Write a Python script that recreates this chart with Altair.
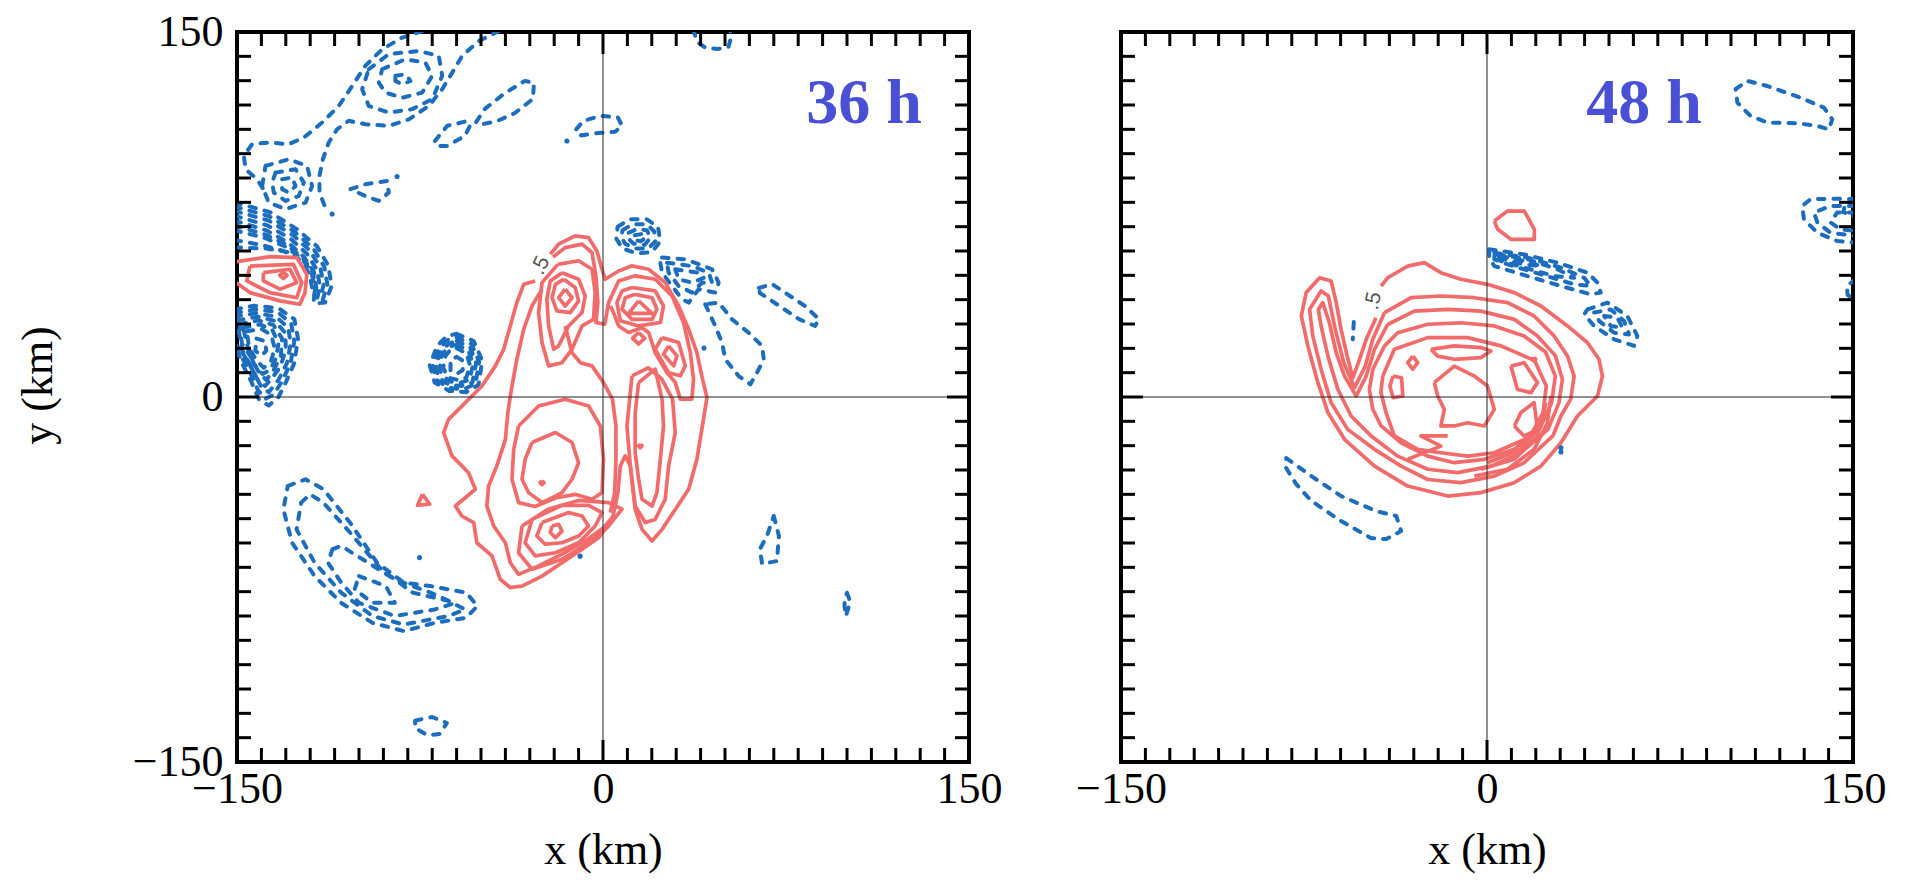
import altair as alt
import pandas as pd

# ====================== 36 h panel : positive (red, solid) contours ======================
P36_OUTER = [(-27.8,47.7),(-32.5,46.3),(-35.3,38.8),(-38,29.2),(-40.7,19.6),(-44.1,12.8),(-49.6,4.5),(-56.4,-2.3),
             (-63.3,-9.2),(-65.3,-14.6),(-61.9,-24.2),(-55.1,-31.1),(-52.3,-37.9),(-60.5,-44.8),(-57.8,-48.9),(-53,-51.6),
             (-51.7,-59.9),(-45.5,-65.3),(-42.1,-74.9),(-38,-78.3),(-33.2,-77.7),(-25,-73.6),(-16.8,-68.1),(-8.6,-62.6),
             (-1.8,-57.8),(3.7,-50.9),(6.1,-39.3),(7.1,-28.3),(9.1,-24.2),(11.2,-28.3),(13.2,-46.2),(16,-54.4),(20.1,-59.2),
             (24.2,-54.4),(29.6,-46.2),(35.1,-37.9),(38.5,-25.6),(40.5,-13.3),(42.6,-0.3),(40.5,8.6),(38.5,18.2),(35.1,27.8),
             (31,37.4),(25.5,47),(18.7,52.5),(11.9,53.9),(6.4,51.8),(0.9,48.4),(-0.4,52.5),(-2.5,60),(-5.9,65.5),
             (-11.4,66.2),(-18.2,62.8),(-21.6,58.7)]
P36_SECOND = [(-25,44.3),(-29.1,37.4),(-32.5,27.8),(-35.3,15.5),(-37.3,4.5),(-39,-6.4),(-40,-17.4),(-43.5,-28.3),
              (-46.9,-36.6),(-47.6,-44.8),(-44.8,-53),(-40,-59.9),(-38,-68.1),(-34.6,-72.9),(-26.4,-69.4),(-16.8,-64.6),
              (-7.3,-59.2),(0.2,-53.7),(4.3,-48.9)]
P36_TOP = [(-20.5,57.5),(-15.5,61.4),(-8.6,62.8),(-4.5,59.3),(-2.9,49.8),(-2.1,38.8),(-2.9,30.6),(0.7,29.9),(2.3,38.8),
           (6.4,47.7),(13.2,49.8),(21.4,48.4),(28.3,41.5),(33,30.6),(35.8,18.2),(37.1,7.3),(36.4,-0.9),(31.7,-0.9),
           (29.6,6),(26.2,10),(21.4,18.2),(18.7,26.5),(15.9,28.5),(10.5,26.5),(6.4,29.2),(4.3,34.7),(3,37.4)]
P36_MID = [(-15.5,29.2),(-12.7,18.2),(-9.3,14.1),(-4.5,12.8),(0.2,5.9),(3.9,-0.9),(5.3,-11.9),(5.3,-25.6),(4.8,-39.3),(3,-47.5)]
P36_EDGE = [(-151,55.5),(-136.5,57.7),(-125.5,57.3),(-121.4,50.4),(-122.1,42.9),(-124.2,38.1),(-132.4,39.5),(-144.7,42.9),(-151,47.5)]

P36_L1 = [(-15.5,44.3),(-12.7,40.8),(-15.5,37.4),(-18.2,40.8)]
P36_L2 = [(-16.1,48.4),(-11.4,45),(-10,39.5),(-13.4,34.7),(-18.9,35.4),(-20.9,40.8),(-19.5,46.3)]
P36_L3 = [(-16.8,51.1),(-10,48.4),(-7.3,41.5),(-8.6,34.7),(-14.1,29.2),(-18.2,21),(-20.2,19.6),(-22.3,29.2),(-23,40.2),(-21.6,47.7)]
P36_L4 = [(-18.5,54.5),(-10,56),(-4.5,52.5),(-3.2,42.9),(-3.9,31.9),(-8.6,29.2),(-12.7,19.6),(-16.8,14.1),(-22.3,12.8),
          (-25,22.4),(-26.4,34.7),(-25,47)]
P36_Q1 = [(14.6,39.5),(20.1,34.4),(10.5,34.4)]
P36_Q2 = [(13.2,42.2),(20.1,40.8),(22.1,36.1),(20.1,31.9),(11.9,31.9),(7.8,36.1),(9.1,40.8)]
P36_Q3 = [(11.9,45),(21.4,43.6),(24.8,37.4),(23.5,30.6),(14.6,29.2),(7.1,31.3),(5.7,38.8),(7.8,43.6)]
P36_D1 = [(14.6,26.5),(17.1,24.1),(14.6,21.8),(12.1,24.1)]
P36_D2 = [(26.9,21),(30.3,16.9),(29,12.8),(24.8,17.6)]
P36_D3 = [(24.2,24.4),(31,22.4),(33.7,12.8),(31.7,8.7),(26.9,10),(21.4,19.6)]
P36_C0 = [(-25,-34.4),(-24.2,-35.2),(-25,-36),(-25.8,-35.2)]
P36_C1 = [(-29.1,-18.7),(-19.5,-14.6),(-12.7,-18.7),(-10,-27),(-12.7,-33.8),(-16.8,-39.3),(-19.5,-40.7),(-25,-43.4),
          (-30.5,-39.3),(-33.2,-33.8),(-31.9,-25.6)]
P36_C2 = [(-34.6,-11.9),(-26.4,-3.7),(-15.5,-0.9),(-5.9,-3.7),(-1.1,-11.9),(0.2,-25.6),(-0.4,-39.3),(-4.5,-42),
          (-11.4,-40),(-19.5,-41.5),(-27.8,-45),(-34.6,-43.4),(-37.3,-33.8),(-36.6,-21.5)]
P36_V1 = [(-20.9,-53),(-18.2,-52.3),(-16.8,-55.1),(-19.5,-57.8),(-21.6,-55.7)]
P36_V2 = [(-25,-51.6),(-14.1,-47.5),(-8.6,-48.9),(-5.9,-53),(-10,-57.1),(-16.8,-59.9),(-23.7,-60.5),(-27.1,-57.1)]
P36_V3 = [(-29.1,-50.3),(-16.8,-44.5),(-5.9,-44.5),(-0.4,-47.5),(-3.2,-53),(-10,-59.9),(-19.5,-64),(-27.8,-65.3),(-31.9,-59.9)]
P36_V4 = [(-33.2,-53),(-22.3,-46),(-10,-42.5),(2.3,-43.4),(7.8,-46.1),(2.3,-53),(-5.9,-59.9),(-16.8,-66.7),(-29.1,-70.8),(-34.6,-64)]
P36_P1 = [(14.6,5.9),(21.4,11.4),(24.2,-0.9),(24.8,-11.9),(23.5,-25.6),(22.1,-39.3),(20.1,-44.8),(16,-42),(14.6,-33.8),
          (13.2,-22.9),(13.2,-6.4)]
P36_P2 = [(11.9,8.7),(18.5,12),(24,7.5),(28.5,-0.9),(29.6,-14.6),(26.9,-28.3),(25.5,-42),(21.4,-50.3),(17.3,-51.6),
          (13.2,-44.8),(11.2,-28.3),(9.8,-11.9)]
P36_P0 = [(15.3,-19.4),(16,-20.1),(15.3,-20.8),(14.6,-20.1)]
P36_TRI = [(-74,-40),(-71,-44),(-76,-44.5)]
P36_E2 = [(-144.7,53.8),(-126.9,54.5),(-123.5,47),(-125.5,40.8),(-136.5,42.9),(-146,47.7)]
P36_E3 = [(-139.2,51.1),(-128.3,52.5),(-125.5,47),(-132.4,44.3),(-139.2,47.7)]
P36_E4 = [(-131,51.3),(-129.5,50),(-131,48.7),(-132.5,50)]

# ====================== 36 h panel : negative (blue, dashed) contours ======================
N36_B1 = [(-74.1,150.4),(-82.3,147.7),(-90.5,142.9),(-97.4,136.1),(-102.8,127.8),(-108.3,119.6),(-115.1,112.8),
          (-122.6,106.6),(-128.8,103.9),(-137,104.6),(-143.8,103.9),(-147.2,99.1),(-146.5,93.6),(-141.8,89.5),(-138.3,84)]
N36_B2 = [(-42.7,150.4),(-50.9,146.3),(-57.7,140.2),(-61.8,133.3),(-65.9,126.5),(-71.4,119.6),(-79.6,114.1),(-87.8,111.4),
          (-97.4,112.1),(-104.2,113.5),(-109,110),(-112.4,104.6),(-114.8,97.7),(-116.2,90.9),(-116.2,84),(-113.8,77.8)]
N36_A1 = [(-151,80),(-136.5,76),(-125.5,69),(-117.3,62),(-112.6,54),(-111.2,45.6),(-113.9,38.8),(-117,38.5)]
N36_A1B = [(-151,78.3),(-136.8,74.3),(-126.3,67.8),(-118.7,61),(-114.2,53.5),(-112.9,45.8),(-115,39.7)]
N36_A2 = [(-151,76.5),(-137,72.5),(-127,66.5),(-120,60),(-115.8,53),(-114.5,46),(-116,40.5)]
N36_A2B = [(-151,74.5),(-137.5,70.5),(-128,65),(-121.3,58.8),(-117.2,52.2),(-116,45.5),(-117.2,40.2)]
N36_A3 = [(-151,72.5),(-138,68.5),(-129,63.5),(-122.5,57.5),(-118.5,51.5),(-117.5,45),(-118.5,40)]
N36_A3B = [(-151,70.5),(-138.5,66.8),(-129.8,62.7),(-123,57.2),(-119,51.5),(-117.7,44.5)]
N36_A4 = [(-151,68.5),(-139,65.5),(-130.5,62),(-123.5,57),(-119.5,51.5),(-118,44),(-118.8,39.5)]
N36_A5 = [(-151,64.5),(-140,62.5),(-131,60),(-125,57),(-120.5,51),(-119,44)]
N36_A6 = [(-151,61.5),(-138,61),(-128.5,59.5)]
N36_TOPU = [(37,151),(38.5,146),(42,143.5),(47,143),(51.5,144),(52.5,148),(52,151)]

N36_E1 = [(-85.1,132),(-81,132.6),(-78.9,129.9),(-82.3,128.5),(-85.1,129.9)]
N36_E2 = [(-90.5,134.7),(-81,138.8),(-72.8,137.4),(-70,132),(-74.1,125.1),(-82.3,123),(-89.2,125.1),(-91.9,129.2)]
N36_E3 = [(-96,134.7),(-87.8,140.9),(-75.5,142.2),(-67.3,140.2),(-65.9,132),(-70,122.4),(-78.2,118.3),(-87.8,116.9),
          (-96,119.6),(-98.7,126.5)]
N36_F1 = [(-131.5,89.5),(-127.4,90.2),(-126,86.7),(-128.8,84),(-131.5,85.4)]
N36_F2 = [(-134.2,92.2),(-126,93.6),(-122.6,88.1),(-124.7,82.6),(-130.1,80.6),(-134.9,84),(-135.6,88.1)]
N36_F3 = [(-138.3,95),(-128.8,97.7),(-121.3,95),(-119.2,86.7),(-121.9,79.9),(-130.1,77.2),(-137,79.9),(-139.7,86.7)]
N36_TRI = [(-103.5,85.4),(-97.4,87.4),(-88.5,88.8),(-87.8,84),(-91.9,80.6),(-97.4,82.6)]
N36_G1 = [(-68.9,105.2),(-63.9,111.4),(-55.7,113.4),(-54.5,111.5),(-56.6,107.3),(-63.9,103.2),(-68,103.2)]
N36_G2 = [(-52,113),(-48.4,118.4),(-40.2,124.9),(-32,129.9),(-28.3,129.1),(-28.7,122.5),(-36.1,116.7),(-43.4,113.4),(-50,112)]
N36_NC = [(-11,110),(-8,113.5),(-1,115.5),(6,115),(7.8,111.5),(5,109),(-2,108.5),(-9,107.5)]
N36_BN1 = [(6,70),(11,73),(18,73),(22.5,70),(23.5,64),(20,59.5),(14,59),(8,61),(5.5,65)]
N36_BN2 = [(8,68.5),(12,71),(18,71),(21,68),(21.5,64),(18.5,61),(13.5,61),(9,63),(7.5,66)]
N36_BN3 = [(10.5,67.5),(14,69),(18,68.5),(19.5,65.5),(17,62.5),(12.5,63),(10.5,65)]
N36_BN4 = [(13,66.5),(16,67),(17.5,65.5),(15.5,64),(13,64.5)]
N36_BAND1 = [(24.2,57.3),(33.7,56.6),(44.7,52.5),(47.4,47),(46,42.9),(39.2,44.3),(35.1,38.8),(32.4,40.2),(28.3,45.6),
             (24.2,51.1),(23.5,55.2)]
N36_BAND2 = [(26.2,55.2),(36.5,53.8),(43.3,51.1),(44.7,47),(40.6,47),(36.5,42.9),(31,45.6),(26.9,51.1)]
N36_BAND3 = [(29.6,52.5),(39.2,51.1),(41.3,49),(36.5,47),(31,48.4)]
N36_TAIL = [(41.9,38.1),(46,29.2),(48.8,22.3),(50.1,15.5),(55.6,8.6),(60.4,5.2),(63.1,10),(65.9,15.5),(65.2,21),
            (59.7,26.4),(52.9,31.9),(47.4,38.8)]
N36_ELONG = [(63.9,44.8),(69.3,46.4),(82.8,37.4),(88.5,32),(86.9,29.2),(80.3,32),(68,40.3),(64.3,42.7)]
N36_LOOPR = [(70,-48.9),(72.1,-57.1),(71.3,-67.4),(65.2,-68.6),(64.3,-62.5),(67.2,-57.1)]
N36_SMALLR = [(100,-80.5),(101.3,-84),(100.5,-87),(99.5,-90),(99,-86),(99,-83)]
N36_LL1 = [(-129.2,-36.6),(-121.9,-33.8),(-114.6,-37.9),(-103.6,-51.7),(-92.6,-68.1),(-81.6,-76.3),(-70.7,-77.7),
           (-56,-80.4),(-51.5,-85.9),(-56,-90.7),(-68.9,-92.8),(-81.6,-96.2),(-94.5,-92.8),(-107.3,-84.6),
           (-118.2,-73.6),(-127.4,-59.9),(-131,-46.2)]
N36_LL2 = [(-123.7,-43.4),(-120.1,-40),(-114.6,-43.4),(-103.6,-55.8),(-90.8,-70.9),(-78,-80.4),(-63.4,-83.8),
           (-56.5,-87.3),(-63.4,-90),(-81.6,-93.5),(-94.5,-90),(-107.3,-80.4),(-118.2,-68.1),(-125.6,-54.4)]
N36_LL3 = [(-110.9,-62.6),(-107.3,-61.2),(-96.3,-68.1),(-85.3,-75),(-70.7,-80.4),(-61,-84.8),(-68.9,-87.3),(-85.3,-90),
           (-100,-84.6),(-107.3,-76.3),(-112.7,-68.1)]
N36_LL4 = [(-100,-73.6),(-89,-77.7),(-85.3,-84.6),(-94.5,-84.6),(-101.8,-79)]
N36_BOT = [(-77,-133),(-70,-131.5),(-64,-134),(-67,-138.5),(-72,-139),(-77,-136)]
N36_BL1 = [(-60,26),(-53,23),(-49.5,15),(-51,5),(-56,2),(-63,2.5),(-69,6),(-71,13),(-68,21),(-64,25)]
N36_BL1B = [(-60,24.5),(-53.8,21.7),(-50.8,14.5),(-52.2,5.5),(-57,3.2),(-63,3.7),(-68.2,7),(-69.8,13.2),(-67,20.2),(-63.5,23.5)]
N36_BL2 = [(-60,23),(-54.5,20.5),(-52,14),(-53.5,6),(-58,4.5),(-63,5),(-67.5,8),(-68.5,13.5),(-66,19.5),(-63,22)]
N36_BL2B = [(-60,21.5),(-55.2,19.2),(-53.2,13.5),(-54.8,7),(-58.8,5.8),(-63.2,6.5),(-66.5,10),(-67,15),(-65.2,18.5),(-62.8,20.8)]
N36_BL3 = [(-60,20),(-56,18),(-54.5,13),(-56,8),(-59.5,7),(-63.5,8),(-65.5,12),(-64.5,17),(-62.5,19.5)]
N36_BL4 = [(-60,16.5),(-57.5,15),(-57.5,11),(-60,9.5),(-62.5,11),(-62.5,15)]
N36_BB1 = [(-151,36),(-143,37.5),(-133,36.5),(-126.5,32),(-125,24),(-126.5,14),(-130,6),(-133,0),(-137,-3.5),(-141,-1),
           (-144,6),(-148,14),(-151,22)]
N36_BB1B = [(-151,34.5),(-142.5,36),(-133.5,35),(-127.8,30.3),(-126.5,23),(-128,14),(-131.5,6.5),(-135,1),(-138.5,-0.8),
            (-141.5,3),(-145,11),(-149,18),(-151,22)]
N36_BB2 = [(-151,33),(-142,34.5),(-134,33),(-129,28.5),(-128,22),(-129.5,14),(-133,7),(-137,2),(-140,4),(-143,10),
           (-147,17),(-151,22)]
N36_BB2B = [(-150,31.5),(-141.5,33),(-134.5,31.3),(-130.2,26.3),(-130,19.5),(-132.2,12.5),(-135.5,8),(-138.5,4.5),
            (-141.5,7),(-144.5,13),(-148,19.5)]
N36_BB3 = [(-149,30),(-141,31.5),(-135,29.5),(-131.5,24),(-132,17),(-135,11),(-138,7),(-141,10),(-144,16),(-148,22)]
N36_BB3B = [(-147.5,28.5),(-140.5,29.8),(-135.5,27.5),(-133,22),(-134,16),(-136.5,11),(-139.5,9.5),(-142.5,12.5),(-145,18)]
N36_BB4 = [(-146,27),(-140,28),(-136,25.5),(-134.5,20),(-136,15),(-139,12),(-142,15),(-145,20)]
N36_BB5 = [(-142,24),(-138.5,23),(-138,19),(-140,17),(-142.5,19)]
N36_DOTS = [(-14.8,105.2),(41.4,20.1),(-9.4,-65.4),(-75.2,-66),(-84.4,90.6),(-111,75.2)]

# ====================== 48 h panel : positive (red) contours ======================
P48_OUTER = [(-45.5,32.6),(-49.5,23.7),(-52.7,14.1),(-55,7.9),(-57.3,16.8),(-59.8,27.8),(-61.8,38.8),(-63.9,47.7),
             (-68.6,49),(-74.1,42.9),(-76.1,33.3),(-73.4,20.9),(-69.3,5.9),(-65.2,-6.4),(-58.4,-17.4),(-46.1,-28.4),
             (-32.5,-36.6),(-16.1,-40.7),(-2.5,-39.3),(11.2,-35.2),(22.1,-28.4),(30.3,-18.8),(37.1,-7.8),(45.3,0.4),
             (47.3,8.6),(45.9,15.5),(41.2,22.3),(33,29.2),(22.1,37.4),(11.2,42.9),(0.2,46.3),(-10.7,48.4),(-18.9,51.1),
             (-25.7,55.2),(-32.5,53.8),(-40.7,49),(-43.4,45.6)]
P48_K1 = [(-5.2,-32.5),(8.4,-29.7),(19.3,-21.5),(24.8,-10.6),(26.2,0.4)]
P48_K2 = [(-2.5,-29.7),(11.2,-25.6),(20.7,-16),(23.4,-5.1)]
P48_K3 = [(0.2,-27),(13.9,-21.5),(22.1,-11.9),(24.1,-2.3)]
P48_JAG = [(-32.5,-25.6),(-18.9,-20.2),(-27.1,-16),(-16.1,-16)]

P48_R2 = [(-42,34.7),(-31.1,40.8),(-18.9,41.5),(-5.2,40.8),(8.4,38.8),(19.3,33.3),(27.5,25.1),(33,16.8),(35.7,8.6),
          (34.3,-0.9),(30.3,-7.8),(27,-16),(15.2,-27),(3,-32.5),(-10.7,-35.2),(-24.3,-33.9),(-35.2,-28.4),(-46.1,-21.5),
          (-57.1,-13.3),(-63.9,-2.3),(-68,11.4),(-71.4,25.1),(-72.7,36),(-68,43.6),(-65,41.5),(-62.2,27.8),(-58.7,14.1),
          (-54.3,3.8),(-49.9,12.7),(-46.8,23.7)]
P48_R3 = [(-40.7,29.8),(-29.8,35.3),(-16.1,36),(-2.5,35.3),(11.2,31.9),(20.7,25.1),(28,17),(30.9,7.3),(29.5,-2.3),
          (25,-13.3),(13.9,-22.9),(1.6,-28.4),(-12,-31.1),(-24.3,-29.7),(-36.6,-24.3),(-47.5,-16),(-55.7,-7.8),
          (-61.1,3.1),(-65.2,16.8),(-68,29.2),(-69.1,36),(-67.3,38.8),(-64.6,30.5),(-61.8,18.2),(-58.4,8.6),
          (-53.6,0.4),(-49.5,8.6),(-46.1,19.6)]
P48_R4 = [(-42,21),(-36.6,26.4),(-24.3,29.9),(-10.7,30.5),(3,29.2),(15.2,25.1),(24,18.5),(28,8.6),(26.5,-2.3),
          (21.5,-13.3),(11.2,-21.5),(-1.1,-25.6),(-13.4,-27),(-24.3,-24.3),(-35.2,-18.8),(-43.4,-11.9),(-46.8,-5.1),
          (-48.2,3.1),(-46.8,11.4)]
P48_R5 = [(-42.7,8.6),(-38,19.6),(-24.3,24.4),(-7.9,24.4),(5.7,21),(19.5,15),(24.3,4.5),(23,-6.4),(17.5,-16.5),
          (3,-22.9),(-7.9,-24.3),(-18.9,-22.9),(-28.4,-21.5),(-38,-16),(-41.5,-6),(-43.5,2)]
P48_ELL = [(-23,19.6),(-13.4,21),(-2.5,20.3),(1.6,18.9),(-2.5,16.2),(-13.4,15.5),(-20.2,16.8)]
P48_DIA = [(-30.4,16.8),(-28.4,14.1),(-30.4,11.4),(-32.5,14.1)]
P48_B = [(-38.5,8.6),(-35,7.9),(-34.5,0.4),(-38.5,-0.3),(-39.8,4.5)]
P48_C = [(-21.6,5.9),(-13.4,12.7),(-5.2,8.6),(0.2,4.5),(3,-5.1),(-1.1,-11.9),(-7.9,-10.6),(-13.4,-11.9),(-18.9,-11.9),
         (-17.5,-5.1),(-20.2,0.4)]
P48_S1 = [(9.8,12.7),(15.2,14.1),(20.7,5.9),(18,1.8),(12.5,3.1)]
P48_S2 = [(11.2,-11.9),(13.9,-6.4),(19.3,-2.3),(20.7,-13.3),(15.2,-16)]
P48_DOT = [(19.3,16.2),(20,15.5),(19.3,14.8),(18.6,15.5)]
P48_TOPL = [(3,72.3),(8.4,76.4),(15.3,76.4),(19.4,68.9),(19.4,64.8),(9.8,64.8),(4.4,68.9)]

# ====================== 48 h panel : negative (blue) contours ======================
N48_N1 = [(151,81.3),(143.5,81.5),(132.6,81.3),(129.2,78.5),(129.9,73),(135.4,67.5),(143.5,64.1),(151,63.4)]
N48_N2 = [(151,78.5),(140.8,78.5),(134,75.8),(135.4,71.7),(140.8,67.5),(151,66.2)]
N48_N3 = [(151,75.8),(143.5,75.8),(140.8,71.7),(144.9,68.9),(151,68.2)]
N48_N4 = [(151,80),(147,80),(146,76),(151,74)]
N48_ARC = [(151,48.5),(147.5,45.5),(147.8,42),(151,39.5)]
N48_DASH = [(-54.6,30.8),(-55,23.7)]

N48_BAND1 = [(0.9,60.7),(15.2,58.6),(28.9,55.2),(41.2,51.1),(45.3,47),(46.6,42.9),(42.5,42.2),(30.3,45.6),(16.6,49.7),
             (3,53.8),(0.9,57.3)]
N48_BAND2 = [(3,59.3),(16.6,57.3),(30.3,53.2),(39.8,49),(42.5,45.6),(35.7,46.3),(22.1,50.4),(8.4,54.5),(3,56.6)]
N48_BAND3 = [(4.3,58.6),(16.6,56.6),(28.9,52.5),(35.7,49),(27.5,49.7),(15.2,53.2),(5.7,55.9)]
N48_BAND4 = [(5.7,57.9),(15.2,55.9),(22.1,53.8),(15.2,54.5),(7,56.6)]
N48_LOOP1 = [(41.2,36),(49.4,38.8),(57.5,33.3),(61.6,25.1),(60.3,21),(52.1,23.7),(43.9,29.2),(39.8,34)]
N48_LOOP2 = [(43.9,34.7),(50.7,36),(56.2,31.2),(58.2,25.7),(52.1,26.4),(46,31.2)]
N48_LOOP3 = [(48,33.3),(53.4,32.6),(55.5,28.5),(50.7,29.2)]
N48_LOWL = [(-82.3,-25.1),(-72,-32.5),(-59.8,-40.7),(-45.4,-46.9),(-37.2,-48.9),(-35.2,-55.1),(-41.3,-58.4),
            (-47.5,-58),(-59.8,-51),(-72,-42.7),(-78.2,-35.8),(-82.3,-29.2)]
N48_TOPR = [(101.9,126.5),(106.7,129.9),(114.9,127.8),(128.5,123),(138.1,118.9),(141.5,114.1),(140.1,110),
            (135.4,111.4),(127.2,112.5),(114.9,112.8),(108,115.5),(102.6,121)]
N48_DOTS = [(30.3,-20.9),(30.3,-22.6)]

# ---------------- labels / ticks ----------------
HEADS = ["36 h", "48 h"]
CLABEL = ".5"
CLABEL_36 = (-25.5, 54.0)
CLABEL_48 = (-46.5, 39.5)
AXIS_VALUES = [-150, 0, 150]
MINOR_TICKS = [v for v in range(-140, 150, 10) if v != 0]

RED = "#f26b6b"
BLUE = "#1c6dbd"
HEAD_BLUE = "#4a50d6"
SERIF = "'Liberation Serif', 'Times New Roman', 'DejaVu Serif', serif"
W, H = 732, 730


def contour_frame(open_list, closed_list, tag):
    rows = []
    allc = [(c, False) for c in open_list] + [(c, True) for c in closed_list]
    for i, (pts, closed) in enumerate(allc):
        seq = list(pts) + ([pts[0]] if closed else [])
        for k, (x, y) in enumerate(seq):
            rows.append({"cid": f"{tag}{i}", "ord": k, "x": x, "y": y})
    return pd.DataFrame(rows)


XS = alt.Scale(domain=[-150, 150], nice=False, zero=False)
YS = alt.Scale(domain=[-150, 150], nice=False, zero=False)
LABEL_EXPR = "datum.value < 0 ? '\u2212' + (-datum.value) : '' + datum.value"


def panel(pos_df, neg_df, dots, head, head_px, clabel_xy, clabel_angle, show_y):
    xax = alt.Axis(values=AXIS_VALUES, labelExpr=LABEL_EXPR, ticks=False, tickSize=0, domain=False, grid=False,
                   labelFont=SERIF, labelFontSize=44, labelColor="black", labelPadding=5,
                   labelFlush=False, labelOverlap=False, labelBound=False,
                   title="x (km)", titleFont=SERIF, titleFontSize=44, titleFontWeight="normal",
                   titleColor="black", titleY=88, titleBaseline="middle")
    if show_y:
        yax = alt.Axis(values=AXIS_VALUES, labelExpr=LABEL_EXPR, ticks=False, tickSize=0, domain=False, grid=False,
                       labelFont=SERIF, labelFontSize=44, labelColor="black", labelPadding=14,
                       labelFlush=False, labelOverlap=False, labelBound=False,
                       title="y (km)", titleFont=SERIF, titleFontSize=44, titleFontWeight="normal",
                       titleColor="black", titleAngle=270, titleX=-199, titleY=353,
                       titleBaseline="middle", titleAlign="center")
    else:
        yax = None
    X = alt.X("x:Q", scale=XS, axis=xax)
    Y = alt.Y("y:Q", scale=YS, axis=yax)

    neg = alt.Chart(neg_df).mark_line(color=BLUE, strokeWidth=4, strokeDash=[6.5, 9], strokeCap="round",
                                      strokeJoin="round", clip=True).encode(
        x=X, y=Y, detail="cid:N", order="ord:Q")
    pos = alt.Chart(pos_df).mark_line(color=RED, strokeWidth=3.7, strokeJoin="round", clip=True).encode(
        x=X, y=Y, detail="cid:N", order="ord:Q")
    dot_df = pd.DataFrame({"x": [d[0] for d in dots], "y": [d[1] for d in dots]})
    dotm = alt.Chart(dot_df).mark_circle(color=BLUE, size=26, opacity=1, clip=True).encode(x=X, y=Y)

    zx = alt.Chart(pd.DataFrame({"x": [0]})).mark_rule(color="#222", strokeWidth=1).encode(x=X)
    zy = alt.Chart(pd.DataFrame({"y": [0]})).mark_rule(color="#222", strokeWidth=1).encode(y=Y)

    tx = pd.DataFrame({"x": MINOR_TICKS})
    ty = pd.DataFrame({"y": MINOR_TICKS})
    tk = dict(color="black", strokeWidth=3)
    bottom = alt.Chart(tx).mark_rule(**tk).encode(x=X, y=alt.value(H), y2=alt.value(H - 14))
    top = alt.Chart(tx).mark_rule(**tk).encode(x=X, y=alt.value(0), y2=alt.value(14))
    left = alt.Chart(ty).mark_rule(**tk).encode(y=Y, x=alt.value(0), x2=alt.value(14))
    right = alt.Chart(ty).mark_rule(**tk).encode(y=Y, x=alt.value(W), x2=alt.value(W - 14))
    zx0 = pd.DataFrame({"x": [0]})
    zy0 = pd.DataFrame({"y": [0]})
    zb = alt.Chart(zx0).mark_rule(**tk).encode(x=X, y=alt.value(H), y2=alt.value(H - 22))
    zt = alt.Chart(zx0).mark_rule(**tk).encode(x=X, y=alt.value(0), y2=alt.value(22))
    zl = alt.Chart(zy0).mark_rule(**tk).encode(y=Y, x=alt.value(0), x2=alt.value(22))
    zr = alt.Chart(zy0).mark_rule(**tk).encode(y=Y, x=alt.value(W), x2=alt.value(W - 22))

    headm = alt.Chart(pd.DataFrame({"t": [head]})).mark_text(
        font=SERIF, fontWeight="bold", fontSize=64, color=HEAD_BLUE, align="center", baseline="middle").encode(
        text="t:N", x=alt.value(head_px[0]), y=alt.value(head_px[1]))
    clab = alt.Chart(pd.DataFrame({"x": [clabel_xy[0]], "y": [clabel_xy[1]], "t": [CLABEL]})).mark_text(
        font="'Liberation Sans', sans-serif", fontSize=21, color="#555", angle=clabel_angle, align="center",
        baseline="middle").encode(x=X, y=Y, text="t:N")

    layers = [neg, pos, dotm, zx, zy, bottom, top, left, right, zb, zt, zl, zr, headm, clab]
    if show_y:
        bound = alt.Chart(pd.DataFrame({"x": [0]})).mark_rule(opacity=0, strokeWidth=1).encode(
            x=alt.value(-227), y=alt.value(300), y2=alt.value(302))
        layers.append(bound)
    return alt.layer(*layers).properties(width=W, height=H)


pos36 = contour_frame(
    [P36_OUTER, P36_SECOND, P36_TOP, P36_MID, P36_EDGE],
    [P36_L1, P36_L2, P36_L3, P36_L4, P36_Q1, P36_Q2, P36_Q3, P36_D1, P36_D2, P36_D3, P36_C0, P36_C1, P36_C2,
     P36_V1, P36_V2, P36_V3, P36_V4, P36_P1, P36_P2, P36_P0, P36_TRI, P36_E2, P36_E3, P36_E4], "p36_")
neg36 = contour_frame(
    [N36_B1, N36_B2, N36_A1, N36_A1B, N36_A2, N36_A2B, N36_A3, N36_A3B, N36_A4, N36_A5, N36_A6, N36_TOPU],
    [N36_E1, N36_E2, N36_E3, N36_F1, N36_F2, N36_F3, N36_TRI, N36_G1, N36_G2, N36_NC, N36_BN1, N36_BN2, N36_BN3,
     N36_BN4, N36_BAND1, N36_BAND2, N36_BAND3, N36_TAIL, N36_ELONG, N36_LOOPR, N36_SMALLR, N36_LL1, N36_LL2,
     N36_LL3, N36_LL4, N36_BOT, N36_BL1, N36_BL1B, N36_BL2, N36_BL2B, N36_BL3, N36_BL4, N36_BB1, N36_BB1B,
     N36_BB2, N36_BB2B, N36_BB3, N36_BB3B, N36_BB4, N36_BB5],
    "n36_")
pos48 = contour_frame(
    [P48_OUTER, P48_K1, P48_K2, P48_K3, P48_JAG],
    [P48_R2, P48_R3, P48_R4, P48_R5, P48_ELL, P48_DIA, P48_B, P48_C, P48_S1, P48_S2, P48_DOT, P48_TOPL], "p48_")
neg48 = contour_frame(
    [N48_N1, N48_N2, N48_N3, N48_N4, N48_ARC, N48_DASH],
    [N48_BAND1, N48_BAND2, N48_BAND3, N48_BAND4, N48_LOOP1, N48_LOOP2, N48_LOOP3, N48_LOWL, N48_TOPR], "n48_")

left_panel = panel(pos36, neg36, N36_DOTS, HEADS[0], (627, 72), CLABEL_36, 295, True)
right_panel = panel(pos48, neg48, N48_DOTS, HEADS[1], (523, 72), CLABEL_48, 282, False)

chart = alt.hconcat(left_panel, right_panel, spacing=152, bounds="flush",
                    padding={"left": 0, "top": 0, "right": 0, "bottom": 0}).configure_view(
    stroke="black", strokeWidth=4).properties(background="white")

chart.save("out.html", embed_options={"renderer": "svg", "actions": False})
